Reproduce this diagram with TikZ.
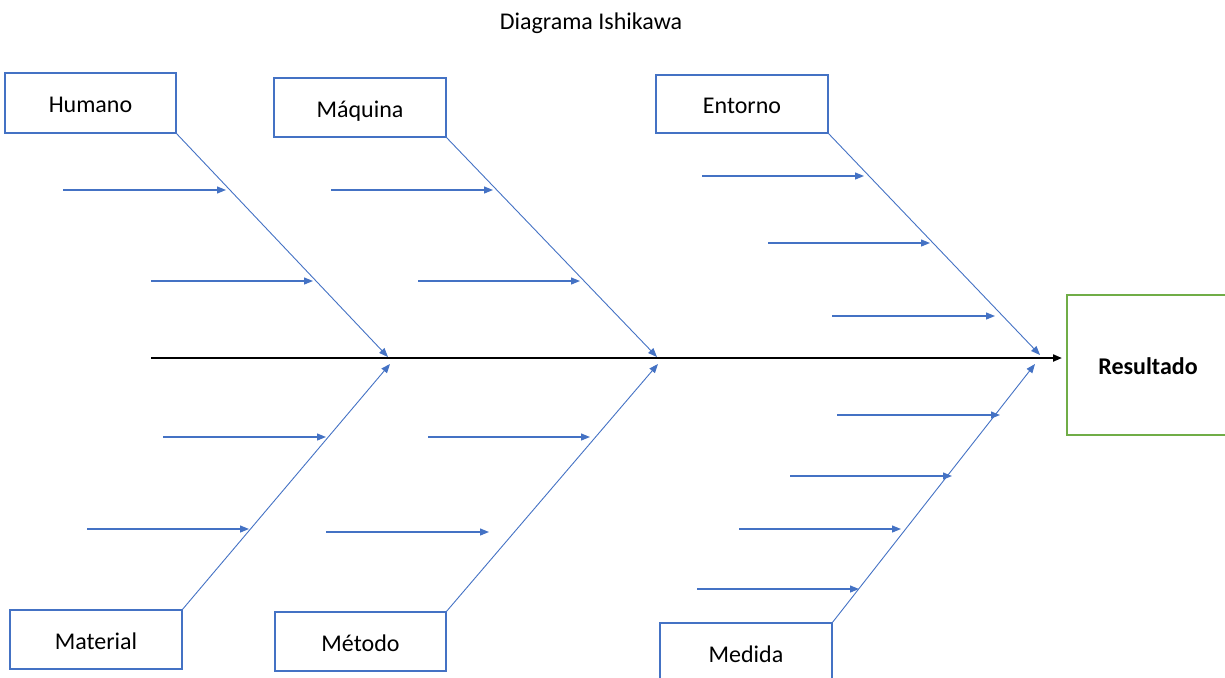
\documentclass[tikz,border=0pt]{standalone}
\usepackage{fontspec}
\setmainfont{Carlito}
\usetikzlibrary{arrows.meta}
\definecolor{boneblue}{HTML}{4472C4}
\definecolor{resgreen}{HTML}{70AD47}
\begin{document}
\begin{tikzpicture}[x=1pt,y=-1pt,
  cause/.style={draw=boneblue,line width=1.3pt,inner sep=0pt,outer sep=0pt,
    text height=19pt,text depth=0pt,
    font=\fontsize{24}{29}\selectfont},
  bone/.style={draw=boneblue!80,line width=0.9pt,-{Triangle[length=9pt,width=7pt]},boneblue},
  twig/.style={draw=boneblue!85,line width=1.2pt,-{Triangle[length=9pt,width=7pt]},boneblue},
  spine/.style={draw=black,line width=2pt,-{Triangle[length=9pt,width=7pt]}}]
\useasboundingbox (0,0) rectangle (1225,677);
\clip (0,0) rectangle (1225,677);

% title
\node[font=\fontsize{24}{29}\selectfont] (title) at (591,23) {Diagrama Ishikawa};

% category boxes
\node[cause,minimum width=171pt,minimum height=60pt] (hum) at (90.5,103) {Humano};
\node[cause,minimum width=172pt,minimum height=59pt] (maq) at (360,107.5) {Máquina};
\node[cause,minimum width=172pt,minimum height=58pt] (ent) at (742,104) {Entorno};
\node[cause,minimum width=172pt,minimum height=59pt] (mat) at (96,639.5) {Material};
\node[cause,minimum width=171pt,minimum height=59pt] (met) at (360.5,641.5) {Método};
\node[cause,minimum width=172pt,minimum height=60pt] (med) at (746,653) {Medida};

% effect box
\node[draw=resgreen,line width=1.3pt,inner sep=0pt,outer sep=0pt,
  minimum width=162pt,minimum height=140pt,text height=18pt,text depth=0pt,
  font=\bfseries\fontsize{24}{29}\selectfont] (res) at (1148,365) {Resultado};

% spine
\coordinate (spS) at (151,358);
\coordinate (spE) at (1062,358);
\draw[spine] (spS) -- (spE);

% main bones
\coordinate (humT) at (388,357);
\coordinate (maqT) at (657,357);
\coordinate (entT) at (1040,355);
\coordinate (matT) at (390,364);
\coordinate (metT) at (658,364);
\coordinate (medT) at (1035,364);
\draw[bone] (hum.south east) -- (humT);
\draw[bone] (maq.south east) -- (maqT);
\draw[bone] (ent.south east) -- (entT);
\draw[bone] (mat.north east) -- (matT);
\draw[bone] (met.north east) -- (metT);
\draw[bone] (med.north east) -- (medT);

% sub-causes: Humano
\coordinate (h1s) at (63,190);  \coordinate (h1e) at (226,190);
\coordinate (h2s) at (151,281); \coordinate (h2e) at (313,281);
% Máquina
\coordinate (q1s) at (331,190); \coordinate (q1e) at (493,190);
\coordinate (q2s) at (418,281); \coordinate (q2e) at (580,281);
% Entorno
\coordinate (e1s) at (702,176); \coordinate (e1e) at (864,176);
\coordinate (e2s) at (768,243); \coordinate (e2e) at (930,243);
\coordinate (e3s) at (832,316); \coordinate (e3e) at (995,316);
% Material
\coordinate (m1s) at (163,437); \coordinate (m1e) at (326,437);
\coordinate (m2s) at (87,529);  \coordinate (m2e) at (249,529);
% Método
\coordinate (t1s) at (428,437); \coordinate (t1e) at (590,437);
\coordinate (t2s) at (326,532); \coordinate (t2e) at (489,532);
% Medida
\coordinate (d1s) at (837,415); \coordinate (d1e) at (1000,415);
\coordinate (d2s) at (790,476); \coordinate (d2e) at (952,476);
\coordinate (d3s) at (739,529); \coordinate (d3e) at (901,529);
\coordinate (d4s) at (697,589); \coordinate (d4e) at (859,589);

\foreach \a in {h1,h2,q1,q2,e1,e2,e3,m1,m2,t1,t2,d1,d2,d3,d4}
  \draw[twig] (\a s) -- (\a e);
\end{tikzpicture}
\end{document}
